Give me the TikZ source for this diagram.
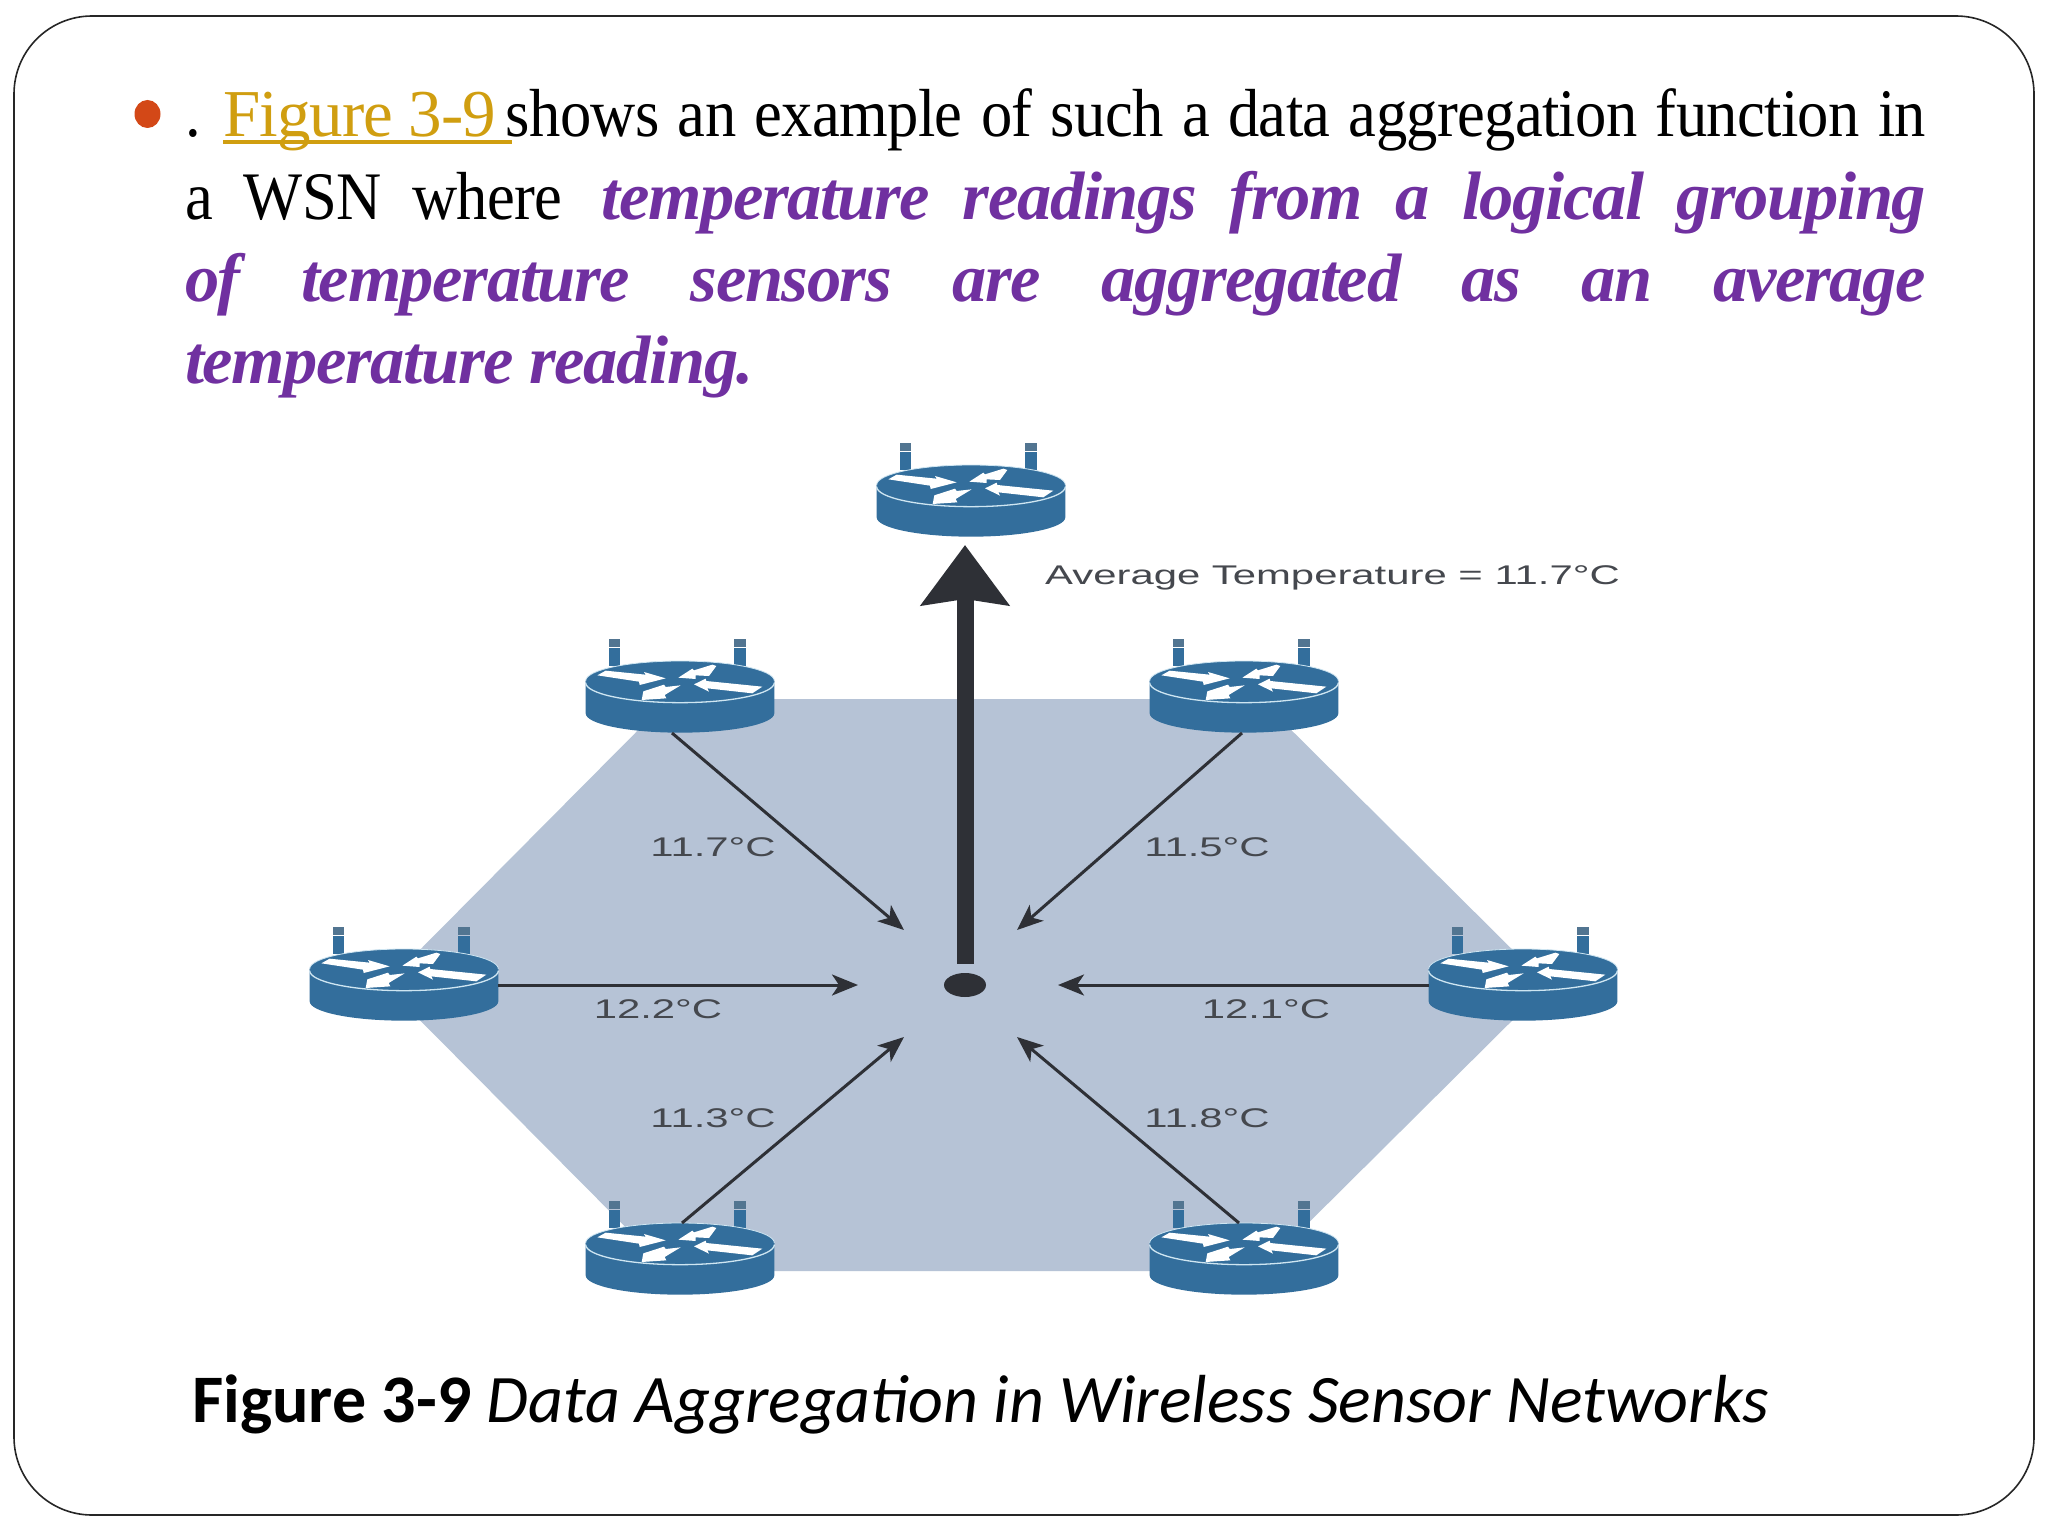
\documentclass[tikz,border=0pt]{standalone}
\usepackage{fontspec}
\usetikzlibrary{arrows.meta,shapes.geometric}
\setmainfont{Liberation Serif}
\newfontfamily\bodyfont[FakeStretch=.92,LetterSpace=-1.0]{Liberation Serif}
\newfontfamily\goldfont[LetterSpace=-1.5]{Liberation Serif}
\newfontfamily\emfont[LetterSpace=-2.0,BoldItalicFont={Liberation Serif Bold Italic}]{Liberation Serif}
\newfontfamily\capfont{Carlito}
\newfontfamily\labfont[FakeStretch=1.55]{Liberation Sans}
\definecolor{routerblue}{HTML}{336E9C}
\definecolor{routeredge}{HTML}{CFE6F2}
\definecolor{hexfill}{HTML}{B6C3D6}
\definecolor{linkgold}{HTML}{D09E10}
\definecolor{textpurple}{HTML}{7030A0}
\definecolor{bulletred}{HTML}{D34817}
\definecolor{arrowdark}{HTML}{2E3036}
\definecolor{labgray}{HTML}{45484E}
\newcommand{\goldlink}[1]{\setbox0\hbox{#1}\rlap{\rule[-7pt]{\wd0}{4pt}}\box0}
\newcommand{\pur}{\emfont\fontsize{68.5}{68.5}\selectfont\bfseries\itshape}
\tikzset{
  routerbox/.style={minimum width=188pt,minimum height=72pt,inner sep=0pt,outer sep=0pt},
  bodyline/.style={anchor=base west,inner sep=0pt,outer sep=0pt},
  templabel/.style={inner sep=0pt,text=labgray,font=\labfont\fontsize{27}{27}\selectfont},
  thinarrow/.style={draw=arrowdark,line width=3pt,-{Stealth[length=26pt,width=21pt,inset=7pt]},shorten >=0pt},
  router/.pic={
    \node[routerbox] (-b) at (0,16) {};
    \begin{scope}[x=.33333pt,y=-.33333pt,shift={(-393,-195)}]
      \fill[routerblue] (180,95) rectangle (213,150);
      \fill[routerblue] (555,95) rectangle (590,150);
      \fill[routerblue!60!gray] (180,70) rectangle (213,92);
      \fill[routerblue!60!gray] (555,70) rectangle (590,92);
      \fill[routerblue] (110,195) -- (110,292) arc[start angle=180,end angle=0,x radius=283,y radius=58] -- (676,195) -- cycle;
      \fill[routerblue] (393,195) ellipse[x radius=283,y radius=60];
      \draw[routeredge,line width=1.3pt] (110,200) arc[start angle=180,end angle=0,x radius=283,y radius=60];
      \draw[routeredge,line width=.8pt] (110,195) arc[start angle=180,end angle=360,x radius=283,y radius=60];
      \fill[white] (145,178) -- (170,164) -- (290,176) -- (285,168) -- (350,187) -- (272,207) -- (270,197) -- cycle;
      \fill[white] (388,185) -- (430,158) -- (435,163) -- (490,146) -- (502,150) -- (480,180) -- (440,178) -- (440,189) -- cycle;
      \fill[white] (435,205) -- (470,188) -- (472,195) -- (640,212) -- (610,232) -- (475,217) -- (480,227) -- cycle;
      \fill[white] (395,208) -- (350,213) -- (345,206) -- (283,226) -- (278,252) -- (352,247) -- (347,237) -- cycle;
    \end{scope}
  }
}
\begin{document}
\begin{tikzpicture}[x=1pt,y=-1pt]
  \useasboundingbox (0,0) rectangle (2048,1536);
  \fill[white] (0,0) rectangle (2048,1536);
  \draw[black!85,line width=1.6pt,rounded corners=78pt] (14,16) rectangle (2034,1515);
  % text
  \fill[bulletred] (147.5,114) ellipse[x radius=13,y radius=14];
  \node[bodyline] (l1) at (185,137) {\makebox[1741pt][s]{\bodyfont\fontsize{68}{68}\selectfont .\kern-8pt{} {\goldfont\fontsize{67}{67}\selectfont\color{linkgold}\goldlink{Figure 3-9\ }}\kern-6pt shows an example of such a data aggregation function in}};
  \node[bodyline] (l2) at (185,219) {\makebox[1741pt][s]{\bodyfont\fontsize{68}{68}\selectfont a WSN where\kern8pt{} {\color{textpurple}\pur temperature readings from a logical grouping}}};
  \node[bodyline] (l3) at (185,301) {\makebox[1741pt][s]{\color{textpurple}\pur of temperature sensors are aggregated as an average}};
  \node[bodyline,text=textpurple] (l4) at (185,383) {\pur temperature reading.};
  % hexagon
  \fill[hexfill] (669,699) -- (1260,699) -- (1548,985) -- (385,985) -- cycle;
  \fill[hexfill] (385,985) -- (1548,985) -- (1260,1271) -- (669,1271) -- cycle;
  % connectors' free ends
  \coordinate (t0) at (965,545);
  \coordinate (t1) at (904,930);
  \coordinate (t2) at (1017,930);
  \coordinate (t3) at (858,985);
  \coordinate (t4) at (1058,985);
  \coordinate (t5) at (904,1037);
  \coordinate (t6) at (1017,1037);
  % routers
  \pic (r0) at (971,485) {router};
  \pic (r1) at (680,681) {router};
  \pic (r2) at (1244,681) {router};
  \pic (r3) at (404,969) {router};
  \pic (r4) at (1523,969) {router};
  \pic (r5) at (680,1243) {router};
  \pic (r6) at (1244,1243) {router};
  % centre
  \node[ellipse,fill=arrowdark,minimum width=42pt,minimum height=24pt,inner sep=0pt] (dot) at (965,985) {};
  \draw[arrowdark,line width=17pt,-{Stealth[length=60pt,width=87pt,inset=6pt]}] ([yshift=9pt]dot.north) -- (t0);
  \draw[thinarrow] ([xshift=-8pt]r1-b.south) -- (t1);
  \draw[thinarrow] ([xshift=-2pt]r2-b.south) -- (t2);
  \draw[thinarrow] (r3-b.east) -- (t3);
  \draw[thinarrow] (r4-b.west) -- (t4);
  \draw[thinarrow] ([xshift=2pt]r5-b.north) -- (t5);
  \draw[thinarrow] ([xshift=-5pt]r6-b.north) -- (t6);
  % labels
  \node[templabel,anchor=west] (avg) at (1045,578) {Average Temperature = 11.7°C};
  \node[templabel] (a1) at (713,847) {11.7°C};
  \node[templabel] (a2) at (1207,847) {11.5°C};
  \node[templabel] (a3) at (658,1009) {12.2°C};
  \node[templabel] (a4) at (1266,1009) {12.1°C};
  \node[templabel] (a5) at (713,1118) {11.3°C};
  \node[templabel] (a6) at (1207,1118) {11.8°C};
  % caption
  \node[anchor=base west,inner sep=0pt] (cap) at (192,1422) {\capfont\fontsize{68}{68}\selectfont\textbf{Figure 3-9} \textit{Data Aggregation in Wireless Sensor Networks}};
\end{tikzpicture}
\end{document}
